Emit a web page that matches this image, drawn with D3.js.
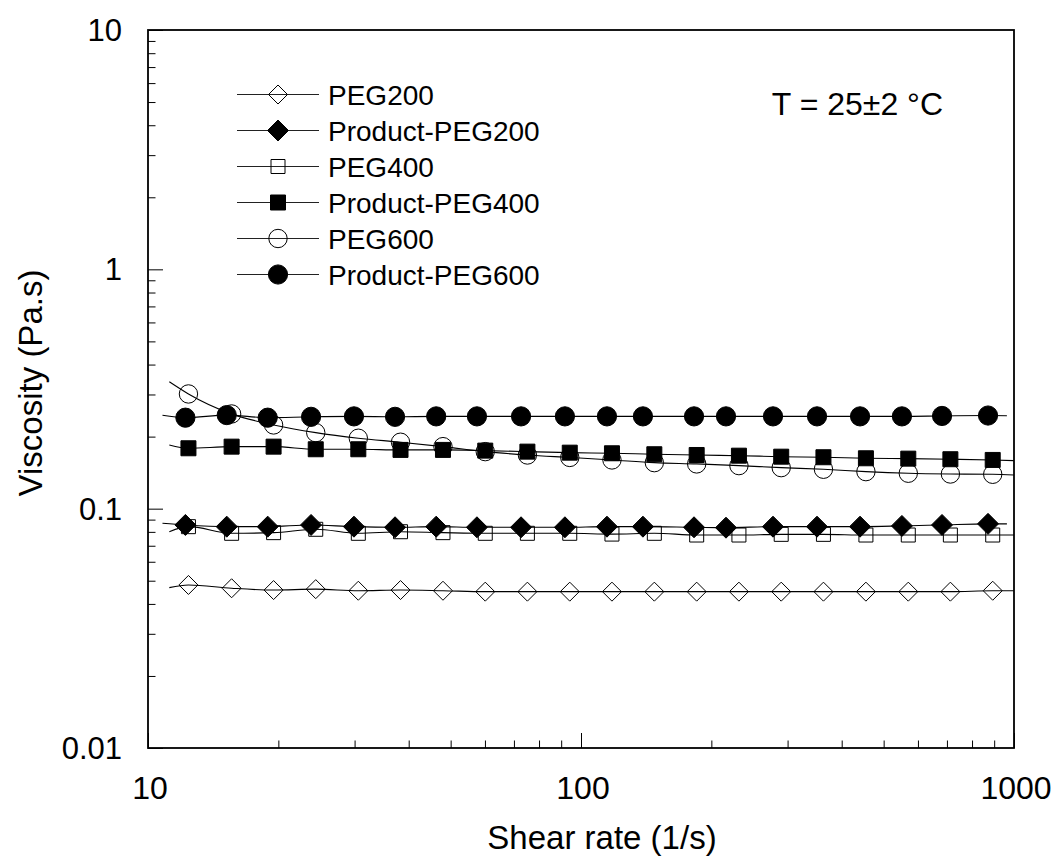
<!DOCTYPE html>
<html>
<head>
<meta charset="utf-8">
<script src="https://cdn.jsdelivr.net/npm/d3@7/dist/d3.min.js"></script>
<style>
  html, body { margin: 0; padding: 0; background: #fff; }
  svg { display: block; font-family: "Liberation Sans", Arial, Helvetica, sans-serif; }
</style>
</head>
<body>
<svg id="chart" width="1057" height="856"></svg>
<script>
// ---- data ----
const shear = [12.4, 15.6, 19.5, 24.4, 30.6, 38.3, 48.0, 60.1, 75.2, 94.2, 117.9, 147.7, 185, 231.6, 290, 363, 455, 570, 713, 893];
const productShear = [12.2, 15.2, 18.9, 23.8, 29.9, 37.2, 46.3, 57.5, 72.7, 91.8, 114.8, 139, 182.4, 216.2, 277.6, 350.8, 441, 551, 682, 871];

const peg200 = [0.0480, 0.0465, 0.0457, 0.0461, 0.0454, 0.0457, 0.0454, 0.0450, 0.0450, 0.0450, 0.0450, 0.0450, 0.0450, 0.0450, 0.0450, 0.0450, 0.0450, 0.0450, 0.0450, 0.0454];
const productPeg200 = [0.0855, 0.0841, 0.0841, 0.0855, 0.0841, 0.0836, 0.0841, 0.0836, 0.0836, 0.0836, 0.0841, 0.0841, 0.0836, 0.0833, 0.0841, 0.0841, 0.0841, 0.0847, 0.0855, 0.0864];
const peg400 = [0.0841, 0.0789, 0.0794, 0.0820, 0.0789, 0.0801, 0.0794, 0.0789, 0.0789, 0.0789, 0.0783, 0.0789, 0.0776, 0.0776, 0.0781, 0.0781, 0.0776, 0.0776, 0.0776, 0.0776];
const productPeg400 = [0.1788, 0.1816, 0.1816, 0.1771, 0.1771, 0.1760, 0.1760, 0.1748, 0.1731, 0.1714, 0.1704, 0.1688, 0.1676, 0.1665, 0.1649, 0.1640, 0.1624, 0.1618, 0.1609, 0.1598];
const peg600 = [0.3015, 0.2487, 0.2238, 0.2078, 0.1969, 0.1895, 0.1816, 0.1731, 0.1676, 0.1637, 0.1598, 0.1557, 0.1538, 0.1513, 0.1484, 0.1461, 0.1428, 0.1406, 0.1396, 0.1392];
const productPeg600 = [0.240, 0.246, 0.240, 0.242, 0.243, 0.242, 0.243, 0.243, 0.243, 0.243, 0.243, 0.243, 0.243, 0.243, 0.243, 0.243, 0.243, 0.243, 0.244, 0.245];

// fitted-curve end points (shear, viscosity)
const fitStart = { peg200: [11.2, 0.0468], productPeg200: [10.8, 0.0869], peg400: [11.2, 0.0801], productPeg400: [11.2, 0.1846], peg600: [11.2, 0.339], productPeg600: [10.8, 0.2457] };
const fitEnd = { peg200: [1000, 0.0454], productPeg200: [963, 0.0864], peg400: [1000, 0.0776], productPeg400: [1000, 0.1588], peg600: [1000, 0.1383], productPeg600: [963, 0.2445] };

const seriesNames = ["PEG200", "Product-PEG200", "PEG400", "Product-PEG400", "PEG600", "Product-PEG600"];
const seriesKeys = ["peg200", "productPeg200", "peg400", "productPeg400", "peg600", "productPeg600"];
const seriesValues = [peg200, productPeg200, peg400, productPeg400, peg600, productPeg600];
const seriesX = [shear, productShear, shear, shear, shear, productShear];
const seriesShape = ["diamond", "diamond", "square", "square", "circle", "circle"];
const seriesFilled = [false, true, false, true, false, true];

const xTickLabels = [10, 100, 1000];
const yTickLabels = [0.01, 0.1, 1, 10];
const xTitle = "Shear rate (1/s)";
const yTitle = "Viscosity (Pa.s)";
const note = "T = 25±2 °C";

// ---- layout ----
const svg = d3.select("#chart");
const L = 148, R = 1014, T = 30, B = 748;
const x = d3.scaleLog().domain([10, 1000]).range([L, R]);
const y = d3.scaleLog().domain([0.01, 10]).range([B, T]);

function minors(dom) {
  const out = [];
  for (let e = Math.log10(dom[0]); e < Math.log10(dom[1]); e++) {
    for (let k = 2; k <= 9; k++) out.push(k * Math.pow(10, e));
  }
  return out;
}

const g = svg.append("g");
function styleTicks(s) {
  s.select(".domain").remove();
  s.selectAll("line").attr("stroke", "#000").attr("stroke-width", 1);
}

g.append("g").attr("transform", `translate(0,${B})`)
  .call(d3.axisBottom(x).tickValues(xTickLabels).tickSize(-15).tickFormat("")).call(styleTicks);
g.append("g").attr("transform", `translate(0,${B})`)
  .call(d3.axisBottom(x).tickValues(minors([10, 1000])).tickSize(-7.5).tickFormat("")).call(styleTicks);
g.append("g").attr("transform", `translate(${L},0)`)
  .call(d3.axisLeft(y).tickValues(yTickLabels).tickSize(-15).tickFormat("")).call(styleTicks);
g.append("g").attr("transform", `translate(${L},0)`)
  .call(d3.axisLeft(y).tickValues(minors([0.01, 10])).tickSize(-7.5).tickFormat("")).call(styleTicks);

// tick labels
g.selectAll(".xl").data(xTickLabels).enter().append("text")
  .attr("x", d => x(d) + 2).attr("y", 799)
  .attr("text-anchor", "middle").attr("font-size", 32).attr("fill", "#000")
  .text(d => String(d));
g.selectAll(".yl").data(yTickLabels).enter().append("text")
  .attr("x", 122).attr("y", d => y(d) + 11)
  .attr("text-anchor", "end").attr("font-size", 31).attr("fill", "#000")
  .text(d => String(d));

// axis titles
g.append("text").attr("x", (L + R) / 2 + 21).attr("y", 849)
  .attr("text-anchor", "middle").attr("font-size", 33).text(xTitle);
g.append("text").attr("transform", `translate(42,${(T + B) / 2 - 6}) rotate(-90)`)
  .attr("text-anchor", "middle").attr("font-size", 33).text(yTitle);

// lines
const line = d3.line().x(d => x(d[0])).y(d => y(d[1])).curve(d3.curveMonotoneX);
seriesKeys.forEach((k, i) => {
  const pts = [fitStart[k]].concat(seriesX[i].map((s, j) => [s, seriesValues[i][j]])).concat([fitEnd[k]]);
  g.append("path").datum(pts).attr("d", line)
    .attr("fill", "none").attr("stroke", "#000").attr("stroke-width", 1.1);
});

// markers
function markerPath(shape, filled) {
  if (shape === "diamond") {
    const h = filled ? 10.5 : 9.5;
    return `M0,${-h}L${h},0L0,${h}L${-h},0Z`;
  }
  if (shape === "square") {
    const a = filled ? 7.5 : 7;
    return `M${-a},${-a}H${a}V${a}H${-a}Z`;
  }
  const r = filled ? 9.6 : 9.2;
  return d3.symbol().type(d3.symbolCircle).size(Math.PI * r * r)();
}
function drawMarker(sel, shape, filled, cx, cy) {
  sel.append("path")
    .attr("d", markerPath(shape, filled))
    .attr("transform", `translate(${cx},${cy})`)
    .attr("fill", filled ? "#000" : "none")
    .attr("stroke", "#000").attr("stroke-width", 1);
}
seriesKeys.forEach((k, i) => {
  const mg = g.append("g");
  seriesX[i].forEach((s, j) => drawMarker(mg, seriesShape[i], seriesFilled[i], x(s), y(seriesValues[i][j])));
});

// frame
g.append("rect").attr("x", L).attr("y", T).attr("width", R - L).attr("height", B - T)
  .attr("fill", "none").attr("stroke", "#000").attr("stroke-width", 1.8);

// legend
const lg = g.append("g");
seriesNames.forEach((name, i) => {
  const ly = 94.5 + i * 36;
  lg.append("line").attr("x1", 237).attr("x2", 319).attr("y1", ly).attr("y2", ly)
    .attr("stroke", "#222").attr("stroke-width", 1);
  drawMarker(lg, seriesShape[i], seriesFilled[i], 278, ly);
  lg.append("text").attr("x", 328).attr("y", ly + 10).attr("font-size", 28).text(name);
});

// note
g.append("text").attr("x", 943).attr("y", 115).attr("text-anchor", "end")
  .attr("font-size", 32).text(note);
</script>
</body>
</html>
